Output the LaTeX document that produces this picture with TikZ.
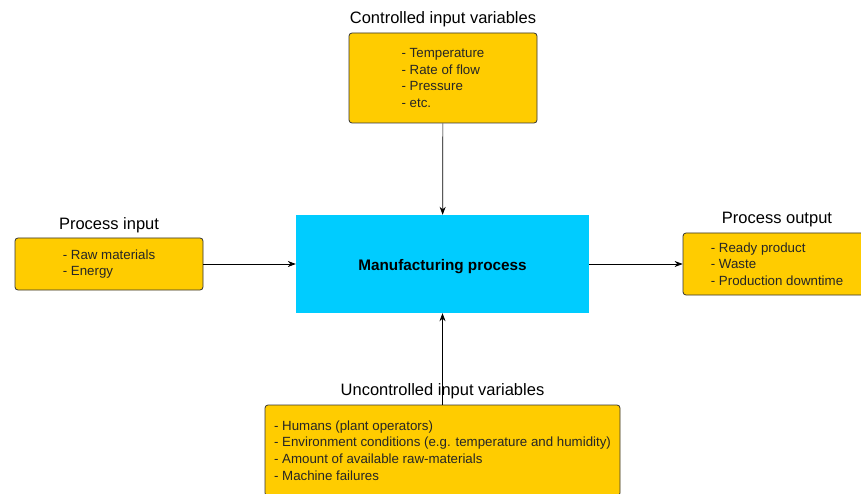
\documentclass[tikz,border=0pt]{standalone}
\usepackage{fontspec}
\setmainfont{Liberation Sans}
\usetikzlibrary{arrows.meta}
\definecolor{boxyellow}{HTML}{FFCC00}
\definecolor{proccyan}{HTML}{00CCFF}
\definecolor{edgegray}{HTML}{333333}
\begin{document}
\begin{tikzpicture}[x=1pt,y=-1pt,
  varbox/.style={draw=edgegray, line width=0.8pt, fill=boxyellow, rounded corners=3pt,
    inner sep=0pt, align=left, font=\fontsize{13.3}{16.6}\selectfont, text=black!85},
  procbox/.style={fill=proccyan, inner sep=0pt, text height=15pt, text depth=3pt,
    font=\fontsize{15.3}{17}\selectfont\bfseries},
  vartitle/.style={font=\fontsize{16.5}{18}\selectfont, inner sep=0pt},
  arr/.style={-{Stealth[length=8pt,width=6pt]}, line width=0.7pt}]
\useasboundingbox (0,0) rectangle (861,494);
\clip (0,0) rectangle (861,494);

\node[procbox, minimum width=293pt, minimum height=98pt] (main) at (442.5,264) {Manufacturing process};

\node[varbox, minimum width=188pt, minimum height=90pt] (ctrl) at (443,78)
  {- Temperature\\- Rate of flow\\- Pressure\\- etc.};
\node[varbox, minimum width=188pt, minimum height=52pt] (pin) at (109,264)
  {- Raw materials\\- Energy};
\node[varbox, minimum width=188pt, minimum height=62pt] (pout) at (777,264)
  {- Ready product\\- Waste\\- Production downtime};
\node[varbox, minimum width=355pt, minimum height=91pt] (unc) at (442.5,450.5)
  {- Humans (plant operators)\\- Environment conditions (e.g. temperature and humidity)\\- Amount of available raw-materials\\- Machine failures};

\node[vartitle] (tctrl) at ([yshift=13pt]ctrl.north) {Controlled input variables};
\node[vartitle] (tpin) at ([yshift=12pt]pin.north) {Process input};
\node[vartitle] (tpout) at ([yshift=13pt]pout.north) {Process output};
\node[vartitle] (tunc) at ([yshift=13pt]unc.north) {Uncontrolled input variables};

\draw[arr] (ctrl) -- (main);
\draw[arr] (pin) -- (main);
\draw[arr] (main) -- (pout);
\draw[arr] (unc.north) -- (main.south);
\end{tikzpicture}
\end{document}
